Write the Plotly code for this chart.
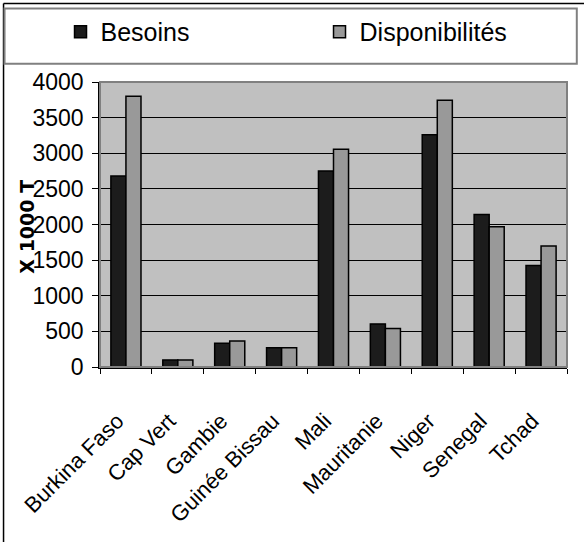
import plotly.graph_objects as go

categories = ["Burkina Faso", "Cap Vert", "Gambie", "Guinée Bissau", "Mali",
              "Mauritanie", "Niger", "Senegal", "Tchad"]
besoins = [2680, 100, 335, 270, 2750, 605, 3260, 2140, 1425]
disponibilites = [3800, 100, 365, 270, 3055, 540, 3745, 1970, 1700]
y_ticks = [0, 500, 1000, 1500, 2000, 2500, 3000, 3500, 4000]

W, H = 584, 542
L, R, T, B = 99.5, 17.3, 81.7, 174.7
PW, PH = W - L - R, H - T - B

def px_x(x):
    return (x - L) / PW

def px_y(y):
    return (H - B - y) / PH

FONT = "Liberation Sans"

fig = go.Figure()
fig.add_trace(go.Bar(name="Besoins", x=categories, y=besoins,
                     marker=dict(color="#1c1c1c", line=dict(color="black", width=1.5))))
fig.add_trace(go.Bar(name="Disponibilités", x=categories, y=disponibilites,
                     marker=dict(color="#999999", line=dict(color="black", width=1.5))))

shapes = [
    # outer frame (top and left visible)
    dict(type="line", xref="paper", yref="paper", x0=px_x(3), x1=px_x(600), y0=px_y(3), y1=px_y(3),
         line=dict(color="black", width=1.5)),
    dict(type="line", xref="paper", yref="paper", x0=px_x(3), x1=px_x(3), y0=px_y(3), y1=px_y(560),
         line=dict(color="black", width=1.5)),
    # legend box
    dict(type="rect", xref="paper", yref="paper", x0=px_x(4), x1=px_x(576.5), y0=px_y(8), y1=px_y(63.5),
         line=dict(color="#808080", width=2)),
    # plot area border (gray)
    dict(type="rect", xref="paper", yref="paper", x0=0, x1=1, y0=0, y1=1,
         line=dict(color="#808080", width=2), layer="above"),
]

tick_text = [c + "\u00a0\u00a0" for c in categories]

fig.update_layout(
    width=W, height=H,
    margin=dict(l=L, r=R, t=T, b=B, autoexpand=False),
    paper_bgcolor="white",
    plot_bgcolor="#c0c0c0",
    barmode="group",
    bargap=0.42,
    bargroupgap=0,
    font=dict(family=FONT, color="black"),
    showlegend=True,
    legend=dict(orientation="h", x=px_x(60), xanchor="left", y=px_y(31.5), yanchor="middle",
                font=dict(family=FONT, size=25, color="black"),
                bgcolor="rgba(0,0,0,0)", itemwidth=30,
                entrywidth=214, entrywidthmode="pixels"),
    shapes=shapes,
    xaxis=dict(type="category", tickangle=-45, tickfont=dict(family=FONT, size=22),
               tickvals=categories, ticktext=tick_text,
               ticks="outside", tickson="boundaries", ticklen=5, tickcolor="black",
               showline=True, linecolor="black", linewidth=1.5, showgrid=False,
               ticklabelstandoff=22),
    yaxis=dict(range=[0, 4000], tickvals=y_ticks, tickfont=dict(family=FONT, size=23),
               ticks="outside", ticklen=6, tickcolor="black",
               showline=True, linecolor="black", linewidth=1.5,
               showgrid=True, gridcolor="black", gridwidth=1,
               zeroline=False, ticklabelstandoff=4),
    annotations=[dict(text="<b>X 1000 T</b>", textangle=-90, xref="paper", yref="paper",
                      x=px_x(26.7), y=px_y(226.4), xanchor="center", yanchor="middle",
                      showarrow=False,
                      font=dict(family="DejaVu Sans", size=19, color="black"))],
)

fig.write_html("out.html", config={"displayModeBar": False},
               post_script="document.body.style.margin='0px';")
